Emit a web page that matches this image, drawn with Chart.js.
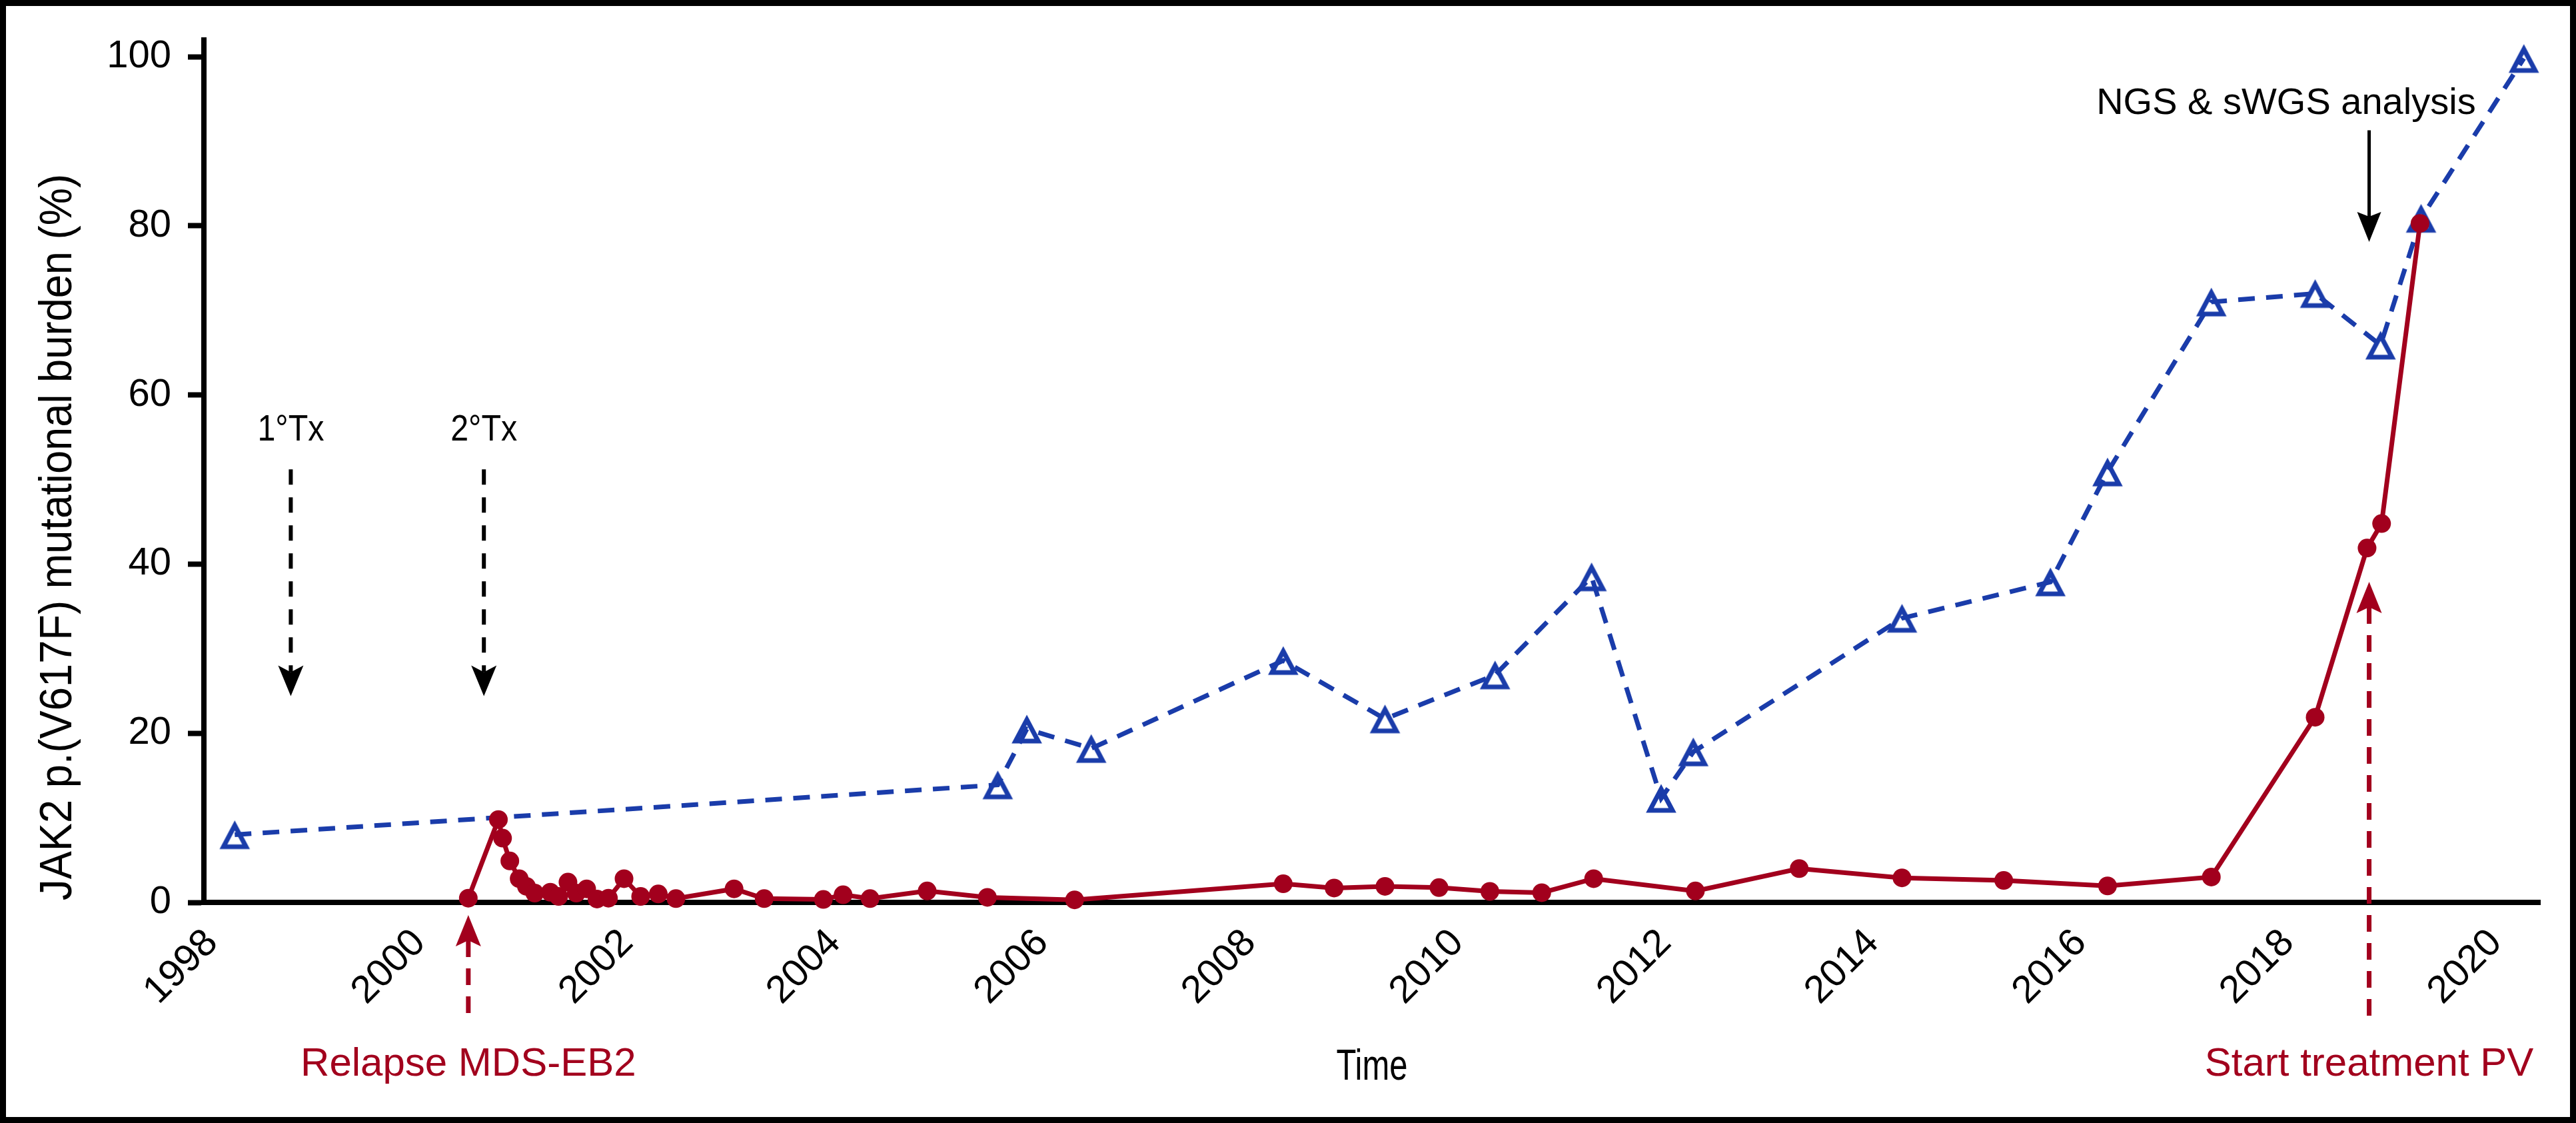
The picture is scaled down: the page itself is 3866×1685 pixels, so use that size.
<!DOCTYPE html>
<html>
<head>
<meta charset="utf-8">
<script src="https://cdn.jsdelivr.net/npm/chart.js@4.4.0/dist/chart.umd.min.js"></script>
<style>
  html, body { margin: 0; padding: 0; background: #fff; }
  #wrap { width: 3866px; height: 1685px; }
</style>
</head>
<body>
<div id="wrap"><canvas id="burdenChart" width="3866" height="1685"></canvas></div>
<script>
// sample dates (decimal years) and JAK2 p.(V617F) burden in %
const triangleYears = [1998.22, 2005.57, 2005.85, 2006.47, 2008.32, 2009.30, 2010.36, 2011.29, 2011.96,
  2012.27, 2014.28, 2015.71, 2016.26, 2017.26, 2018.26, 2018.89, 2019.28, 2020.27];
const triangleBurden = [8.0, 13.9, 20.5, 18.2, 28.6, 21.7, 26.9, 38.5, 12.3,
  17.8, 33.6, 37.9, 50.9, 71.0, 72.0, 65.9, 80.9, 99.8];

const circleYears = [2000.47, 2000.76, 2000.80, 2000.87, 2000.96, 2001.03, 2001.11, 2001.26, 2001.34,
  2001.43, 2001.51, 2001.61, 2001.71, 2001.82, 2001.97, 2002.13, 2002.30, 2002.47, 2003.03,
  2003.32, 2003.89, 2004.08, 2004.34, 2004.89, 2005.47, 2006.31, 2008.32, 2008.81, 2009.30,
  2009.82, 2010.31, 2010.81, 2011.31, 2012.29, 2013.29, 2014.28, 2015.26, 2016.26, 2017.26,
  2018.26, 2018.76, 2018.90, 2019.27];
const circleBurden = [0.5, 9.8, 7.6, 4.9, 2.8, 1.9, 1.1, 1.2, 0.7,
  2.4, 1.1, 1.6, 0.4, 0.5, 2.8, 0.7, 1.0, 0.45, 1.6,
  0.45, 0.35, 0.9, 0.45, 1.35, 0.6, 0.3, 2.2, 1.7, 1.9,
  1.75, 1.3, 1.15, 2.8, 1.35, 4.0, 2.9, 2.6, 1.95, 3.0,
  21.9, 41.9, 44.8, 80.3];

const xTicks = [1998, 2000, 2002, 2004, 2006, 2008, 2010, 2012, 2014, 2016, 2018, 2020];
const yTicks = [0, 20, 40, 60, 80, 100];

// arrows: x in years, tail/tip in % units
const blackArrows = [
  { label: '1°Tx', x: 1998.76, tail: 51.2, tip: 24.4, textY: 54.6 },
  { label: '2°Tx', x: 2000.62, tail: 51.2, tip: 24.4, textY: 54.6 }
];
const redArrows = [
  { label: 'Relapse MDS-EB2', x: 2000.47, tail: -14.35, tip: -1.5, textY: -20.5 },
  { label: 'Start treatment PV', x: 2018.78, tail: -14.4, tip: 37.9, textY: -20.5 }
];
const ngsArrow = { label: 'NGS & sWGS analysis', x: 2018.78, tail: 91.3, tip: 78.1, textX: 2017.98, textY: 93.25 };

const RED = '#a2001d';
const BLUE = '#1a3caa';
const FONT = "'Liberation Sans', Arial, Helvetica, sans-serif";

const makeTriangle = (color) => {
    const c = document.createElement('canvas');
    c.width = 52;
    c.height = 52;
    const g = c.getContext('2d');
    g.strokeStyle = color;
    g.lineWidth = 7;
    g.lineJoin = 'miter';
    g.beginPath();
    g.moveTo(26, 12);
    g.lineTo(43, 44);
    g.lineTo(9, 44);
    g.closePath();
    g.stroke();
    return c;
};

const drawArrow = (ctx, px, tailPx, tipPx, o) => {
    const dir = tipPx > tailPx ? 1 : -1; // 1 = pointing down
    const baseY = tipPx - dir * o.head;
    const notchY = tipPx - dir * (o.head - o.notch);
    ctx.strokeStyle = o.color;
    ctx.fillStyle = o.color;
    ctx.lineWidth = o.width;
    ctx.setLineDash(o.dash || []);
    ctx.beginPath();
    if (o.dashFromHead) {
        ctx.moveTo(px, notchY);
        ctx.lineTo(px, tailPx);
    } else {
        ctx.moveTo(px, tailPx);
        ctx.lineTo(px, notchY);
    }
    ctx.stroke();
    ctx.setLineDash([]);
    ctx.beginPath();
    ctx.moveTo(px, tipPx);
    ctx.lineTo(px + o.half, baseY);
    ctx.lineTo(px, notchY);
    ctx.lineTo(px - o.half, baseY);
    ctx.closePath();
    ctx.fill();
};

// condensed text: squeeze horizontally so it fills the given width
const fitText = (ctx, text, x, y, width) => {
    const w = ctx.measureText(text).width;
    ctx.save();
    ctx.translate(x, y);
    ctx.scale(width / w, 1);
    ctx.fillText(text, 0, 0);
    ctx.restore();
};

const annotations = {
    id: 'annotations',
    afterDraw(chart) {
        const { ctx } = chart;
        const xs = chart.scales.x;
        const ys = chart.scales.y;
        ctx.save();

        // black dashed treatment arrows
        ctx.textAlign = 'center';
        ctx.textBaseline = 'alphabetic';
        blackArrows.forEach(a => {
            const px = xs.getPixelForValue(a.x);
            drawArrow(ctx, px, ys.getPixelForValue(a.tail), ys.getPixelForValue(a.tip),
                { color: '#000', width: 6, dash: [23, 19], head: 46, half: 19, notch: 10 });
            ctx.fillStyle = '#000';
            ctx.font = `56px ${FONT}`;
            fitText(ctx, a.label, px, ys.getPixelForValue(a.textY), 100);
        });

        // red dashed arrows below the events
        redArrows.forEach(a => {
            const px = xs.getPixelForValue(a.x);
            drawArrow(ctx, px, ys.getPixelForValue(a.tail), ys.getPixelForValue(a.tip),
                { color: RED, width: 7, dash: [25, 17], head: 47, half: 19, notch: 9, dashFromHead: true });
            ctx.fillStyle = RED;
            ctx.font = `60px ${FONT}`;
            ctx.fillText(a.label, px, ys.getPixelForValue(a.textY));
        });

        // NGS arrow
        const nx = xs.getPixelForValue(ngsArrow.x);
        drawArrow(ctx, nx, ys.getPixelForValue(ngsArrow.tail), ys.getPixelForValue(ngsArrow.tip),
            { color: '#000', width: 5, head: 45, half: 18, notch: 7 });
        ctx.fillStyle = '#000';
        ctx.font = `56px ${FONT}`;
        ctx.fillText(ngsArrow.label, xs.getPixelForValue(ngsArrow.textX), ys.getPixelForValue(ngsArrow.textY));

        // axis titles
        ctx.font = `68px ${FONT}`;
        ctx.save();
        ctx.translate(107, 806);
        ctx.rotate(-Math.PI / 2);
        fitText(ctx, 'JAK2 p.(V617F) mutational burden (%)', 0, 0, 1090);
        ctx.restore();
        ctx.font = `64px ${FONT}`;
        fitText(ctx, 'Time', (chart.chartArea.left + chart.chartArea.right) / 2, 1620, 107);

        // outer frame
        ctx.strokeStyle = '#000';
        ctx.lineWidth = 9;
        ctx.strokeRect(4.5, 4.5, 3857, 1676);
        ctx.restore();
    }
};

const ctx = document.getElementById('burdenChart').getContext('2d');
const triangle = makeTriangle(BLUE);

new Chart(ctx, {
    type: 'line',
    data: {
        datasets: [{
            label: 'Circles',
            data: circleYears.map((x, i) => ({ x: x, y: circleBurden[i] })),
            borderColor: RED,
            backgroundColor: RED,
            borderWidth: 7,
            pointRadius: 14,
            pointBorderWidth: 0,
            pointBackgroundColor: RED,
            tension: 0,
            clip: false,
            order: 1
        }, {
            label: 'Triangles',
            data: triangleYears.map((x, i) => ({ x: x, y: triangleBurden[i] })),
            borderColor: BLUE,
            backgroundColor: BLUE,
            borderWidth: 7,
            borderDash: [25, 17],
            pointStyle: triangle,
            pointRadius: 22,
            tension: 0,
            clip: false,
            order: 2
        }]
    },
    options: {
        responsive: false,
        maintainAspectRatio: false,
        devicePixelRatio: 1,
        animation: false,
        events: [],
        layout: { padding: { left: 0, top: 54, right: 54, bottom: 0 } },
        plugins: {
            legend: { display: false },
            tooltip: { enabled: false }
        },
        scales: {
            x: {
                type: 'linear',
                min: 1997.923,
                max: 2020.426,
                afterBuildTicks: (scale) => { scale.ticks = xTicks.map(v => ({ value: v })); },
                afterFit: (scale) => { scale.height = 331; },
                grid: { display: false, drawTicks: false },
                border: { display: true, color: '#000', width: 8 },
                ticks: {
                    minRotation: 45,
                    maxRotation: 45,
                    padding: 27,
                    color: '#000',
                    font: { family: FONT, size: 58 },
                    callback: (v) => String(v)
                }
            },
            y: {
                type: 'linear',
                min: 0,
                max: 102,
                afterBuildTicks: (scale) => { scale.ticks = yTicks.map(v => ({ value: v })); },
                afterFit: (scale) => { scale.width = 306; },
                grid: {
                    display: true,
                    drawOnChartArea: false,
                    drawTicks: true,
                    tickLength: 24,
                    tickWidth: 8,
                    tickColor: '#000'
                },
                border: { display: true, color: '#000', width: 8 },
                ticks: {
                    padding: 25,
                    color: '#000',
                    font: { family: FONT, size: 58 },
                    callback: (v) => String(v)
                }
            }
        }
    },
    plugins: [annotations]
});
</script>
</body>
</html>
